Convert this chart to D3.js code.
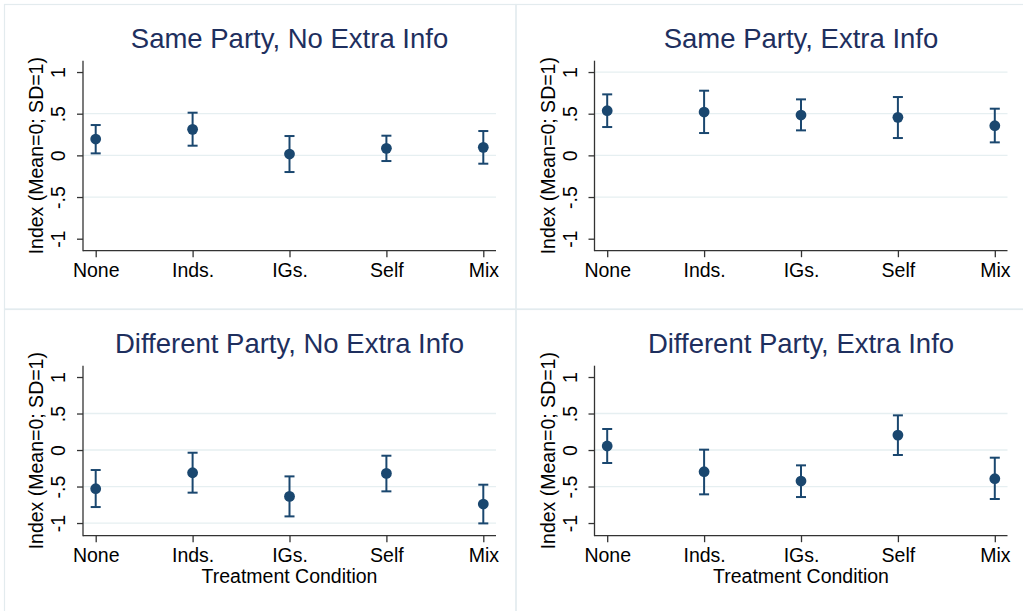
<!DOCTYPE html>
<html>
<head>
<meta charset="utf-8">
<script src="https://cdn.jsdelivr.net/npm/d3@7"></script>
<style>
  body { margin: 0; background: #fff; }
  text { font-family: "Liberation Sans", Arial, sans-serif; }
</style>
</head>
<body>
<svg id="chart"></svg>
<script>
// chart size
var width = 1023,
    height = 611;

// data
var categories = ["None", "Inds.", "IGs.", "Self", "Mix"];
var titles = ["Same Party, No Extra Info", "Same Party, Extra Info",
              "Different Party, No Extra Info", "Different Party, Extra Info"];
var yTicks = [-1, -0.5, 0, 0.5, 1];
var yTickLabels = ["-1", "-.5", "0", ".5", "1"];
var yTitle = "Index (Mean=0; SD=1)";
var xTitle = "Treatment Condition";

// point estimates
var meanSameNo  = [0.196, 0.312, 0.016, 0.084, 0.096];
var meanSameEx  = [0.536, 0.520, 0.484, 0.456, 0.356];
var meanDiffNo  = [-0.530, -0.311, -0.635, -0.320, -0.740];
var meanDiffEx  = [0.055, -0.297, -0.425, 0.205, -0.393];
// lower bounds
var loSameNo = [0.024, 0.116, -0.200, -0.068, -0.100];
var loSameEx = [0.340, 0.268, 0.300, 0.208, 0.156];
var loDiffNo = [-0.781, -0.584, -0.909, -0.566, -1.005];
var loDiffEx = [-0.178, -0.607, -0.644, -0.068, -0.671];
// upper bounds
var hiSameNo = [0.364, 0.512, 0.232, 0.236, 0.292];
var hiSameEx = [0.732, 0.776, 0.672, 0.700, 0.560];
var hiDiffNo = [-0.274, -0.037, -0.361, -0.078, -0.475];
var hiDiffEx = [0.288, 0.005, -0.210, 0.475, -0.105];
// gridlines drawn in each panel
var gridSameNo = [-0.5, 0, 0.5];
var gridSameEx = [-0.5, 0, 0.5, 1];
var gridDiffNo = [-1, -0.5, 0, 0.5];
var gridDiffEx = [-0.5, 0, 0.5];

var panels = [
  { title: titles[0], mean: meanSameNo, lo: loSameNo, hi: hiSameNo, grid: gridSameNo, col: 0, row: 0 },
  { title: titles[1], mean: meanSameEx, lo: loSameEx, hi: hiSameEx, grid: gridSameEx, col: 1, row: 0 },
  { title: titles[2], mean: meanDiffNo, lo: loDiffNo, hi: hiDiffNo, grid: gridDiffNo, col: 0, row: 1 },
  { title: titles[3], mean: meanDiffEx, lo: loDiffEx, hi: hiDiffEx, grid: gridDiffEx, col: 1, row: 1 }
];

var navy = "#1a476f",
    gridColor = "#e6eff1",
    titleColor = "#1e2f5e";

var svg = d3.select("#chart")
    .attr("width", width)
    .attr("height", height);

var panelW = 511.5, panelH = 305;
var plotLeft = 83, plotRight = 496, plotTop = 60.7;

panels.forEach(function(p) {
  var g = svg.append("g")
      .attr("transform", "translate(" + (p.col * panelW) + "," + (p.row * panelH) + ")");

  // outer frame of each graph
  g.append("rect")
      .attr("x", 4.5).attr("y", 4.5)
      .attr("width", 511.5).attr("height", 304.5)
      .attr("fill", "none")
      .attr("stroke", "#e3ebee")
      .attr("stroke-width", 1.2);

  var bottomRow = p.row === 1;
  var plotBottom = bottomRow ? 230.7 : 250.7;

  var x = d3.scalePoint()
      .domain(categories)
      .range([95.7, 483.3]);

  var y = d3.scaleLinear()
      .domain(bottomRow ? [-1.1735, 1.155] : [-1.144, 1.136])
      .range([plotBottom, plotTop]);

  // gridlines
  g.selectAll(".grid")
      .data(p.grid)
      .enter().append("line")
      .attr("x1", plotLeft).attr("x2", plotRight)
      .attr("y1", function(d) { return y(d); })
      .attr("y2", function(d) { return y(d); })
      .attr("stroke", gridColor)
      .attr("stroke-width", 1.3);

  // y axis
  var yAxis = d3.axisLeft(y)
      .tickValues(yTicks)
      .tickFormat(function(d, i) { return yTickLabels[i]; })
      .tickSize(6)
      .tickPadding(0);
  var ya = g.append("g")
      .attr("transform", "translate(" + plotLeft + ",0)")
      .call(yAxis);
  ya.select(".domain").remove();
  ya.append("line")
      .attr("x1", 0).attr("x2", 0)
      .attr("y1", plotTop).attr("y2", plotBottom + 0.5)
      .attr("stroke", "#333").attr("stroke-width", 1.3);
  ya.selectAll(".tick line").attr("stroke", "#333").attr("stroke-width", 1.3);
  ya.selectAll(".tick text")
      .attr("x", null).attr("dy", null)
      .attr("transform", "translate(-18,0) rotate(-90)")
      .attr("text-anchor", "middle")
      .attr("fill", "#000")
      .style("font-size", "19.5px");

  // x axis
  var xAxis = d3.axisBottom(x)
      .tickSize(6.5)
      .tickPadding(0);
  var xa = g.append("g")
      .attr("transform", "translate(0," + plotBottom + ")")
      .call(xAxis);
  xa.select(".domain").remove();
  xa.append("line")
      .attr("x1", plotLeft).attr("x2", plotRight)
      .attr("y1", 0).attr("y2", 0)
      .attr("stroke", "#333").attr("stroke-width", 1.3);
  xa.selectAll(".tick line").attr("stroke", "#333").attr("stroke-width", 1.3);
  xa.selectAll(".tick text")
      .attr("y", 26).attr("dy", null)
      .attr("fill", "#000")
      .style("font-size", "19.5px");

  // y axis title
  g.append("text")
      .attr("transform", "translate(43," + ((plotTop + plotBottom) / 2) + ") rotate(-90)")
      .attr("text-anchor", "middle")
      .style("font-size", "19.5px")
      .text(yTitle);

  // x axis title (bottom row only)
  if (bottomRow) {
    g.append("text")
        .attr("x", (plotLeft + plotRight) / 2)
        .attr("y", 278.3)
        .attr("text-anchor", "middle")
        .style("font-size", "19.5px")
        .text(xTitle);
  }

  // panel title
  g.append("text")
      .attr("x", (plotLeft + plotRight) / 2)
      .attr("y", 48)
      .attr("text-anchor", "middle")
      .attr("fill", titleColor)
      .style("font-size", "27.5px")
      .text(p.title);

  // error bars
  var bars = g.selectAll(".ci")
      .data(categories)
      .enter().append("g")
      .attr("class", "ci");
  bars.append("line")
      .attr("x1", function(d) { return x(d); })
      .attr("x2", function(d) { return x(d); })
      .attr("y1", function(d, i) { return y(p.lo[i]); })
      .attr("y2", function(d, i) { return y(p.hi[i]); })
      .attr("stroke", navy).attr("stroke-width", 2);
  bars.append("line")
      .attr("x1", function(d) { return x(d) - 5; })
      .attr("x2", function(d) { return x(d) + 5; })
      .attr("y1", function(d, i) { return y(p.lo[i]); })
      .attr("y2", function(d, i) { return y(p.lo[i]); })
      .attr("stroke", navy).attr("stroke-width", 2);
  bars.append("line")
      .attr("x1", function(d) { return x(d) - 5; })
      .attr("x2", function(d) { return x(d) + 5; })
      .attr("y1", function(d, i) { return y(p.hi[i]); })
      .attr("y2", function(d, i) { return y(p.hi[i]); })
      .attr("stroke", navy).attr("stroke-width", 2);

  // point estimates
  g.selectAll(".dot")
      .data(categories)
      .enter().append("circle")
      .attr("class", "dot")
      .attr("cx", function(d) { return x(d); })
      .attr("cy", function(d, i) { return y(p.mean[i]); })
      .attr("r", 5.4)
      .attr("fill", navy);
});
</script>
</body>
</html>
